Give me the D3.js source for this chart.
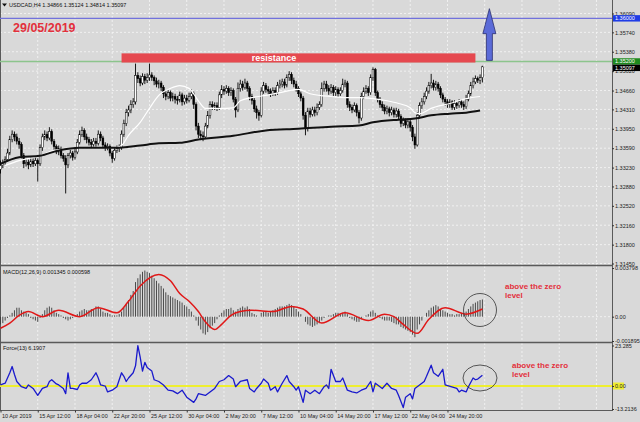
<!DOCTYPE html>
<html><head><meta charset="utf-8">
<script src="https://cdn.jsdelivr.net/npm/d3@7"></script>
<style>body{margin:0;background:#d9d9d9;} svg{display:block;font-family:"Liberation Sans",Arial,sans-serif;}</style>
</head><body><svg id="c" width="640" height="422"></svg>
<script>
// ---------- DATA ----------
const firstOpen = 1.3320;
const closes = [1.3327,1.3332,1.3338,1.3350,1.3375,1.3385,1.3380,1.3372,1.3366,1.3345,
1.3330,1.3333,1.3328,1.3335,1.3330,1.3336,1.3330,1.3360,1.3380,1.3385,
1.3378,1.3390,1.3372,1.3362,1.3352,1.3358,1.3345,1.3340,1.3328,1.3345,
1.3350,1.3342,1.3352,1.3370,1.3385,1.3392,1.3380,1.3375,1.3370,1.3366,
1.3372,1.3368,1.3385,1.3378,1.3365,1.3360,1.3362,1.3350,1.3340,1.3355,
1.3358,1.3360,1.3385,1.3405,1.3425,1.3430,1.3440,1.3445,1.3494,1.3488,
1.3480,1.3492,1.3485,1.3490,1.3495,1.3490,1.3484,1.3478,1.3480,1.3472,
1.3460,1.3455,1.3462,1.3452,1.3455,1.3450,1.3448,1.3458,1.3445,1.3452,
1.3448,1.3455,1.3460,1.3440,1.3400,1.3385,1.3382,1.3380,1.3400,1.3420,
1.3440,1.3436,1.3438,1.3434,1.3458,1.3468,1.3465,1.3470,1.3462,1.3466,
1.3450,1.3430,1.3470,1.3478,1.3472,1.3480,1.3470,1.3455,1.3448,1.3432,
1.3425,1.3420,1.3465,1.3475,1.3468,1.3465,1.3460,1.3466,1.3462,1.3475,
1.3478,1.3482,1.3476,1.3490,1.3496,1.3485,1.3478,1.3470,1.3460,1.3452,
1.3420,1.3395,1.3428,1.3422,1.3430,1.3425,1.3435,1.3440,1.3470,1.3478,
1.3470,1.3465,1.3472,1.3462,1.3468,1.3460,1.3466,1.3478,1.3480,1.3440,
1.3435,1.3430,1.3438,1.3425,1.3415,1.3455,1.3465,1.3470,1.3462,1.3490,
1.3505,1.3462,1.3450,1.3440,1.3435,1.3428,1.3432,1.3425,1.3430,1.3422,
1.3428,1.3418,1.3405,1.3410,1.3402,1.3408,1.3398,1.3380,1.3365,1.3420,
1.3438,1.3445,1.3455,1.3465,1.3475,1.3480,1.3472,1.3478,1.3470,1.3458,
1.3450,1.3445,1.3440,1.3445,1.3435,1.3442,1.3438,1.3445,1.3440,1.3436,
1.3450,1.3460,1.3475,1.3482,1.3488,1.3485,1.3490,1.3510];
const highs = [1.3336,1.3338,1.3344,1.3358,1.3382,1.3392,1.3390,1.3386,1.3378,1.3370,
1.3350,1.3340,1.3338,1.3342,1.3340,1.3342,1.3340,1.3366,1.3386,1.3392,
1.3390,1.3398,1.3394,1.3376,1.3366,1.3364,1.3362,1.3350,1.3346,1.3350,
1.3356,1.3354,1.3358,1.3376,1.3392,1.3399,1.3396,1.3386,1.3380,1.3376,
1.3378,1.3378,1.3392,1.3390,1.3382,1.3370,1.3368,1.3366,1.3354,1.3360,
1.3364,1.3366,1.3392,1.3412,1.3432,1.3438,1.3448,1.3452,1.3516,1.3500,
1.3494,1.3498,1.3497,1.3498,1.3516,1.3500,1.3494,1.3490,1.3486,1.3484,
1.3476,1.3466,1.3468,1.3466,1.3462,1.3460,1.3456,1.3464,1.3462,1.3458,
1.3458,1.3462,1.3468,1.3464,1.3444,1.3406,1.3392,1.3390,1.3406,1.3428,
1.3446,1.3446,1.3444,1.3444,1.3464,1.3476,1.3474,1.3476,1.3474,1.3472,
1.3470,1.3454,1.3481,1.3486,1.3484,1.3488,1.3484,1.3474,1.3460,1.3452,
1.3438,1.3430,1.3472,1.3482,1.3480,1.3474,1.3470,1.3472,1.3472,1.3482,
1.3486,1.3488,1.3488,1.3496,1.3502,1.3500,1.3490,1.3484,1.3474,1.3464,
1.3456,1.3426,1.3434,1.3434,1.3436,1.3436,1.3442,1.3446,1.3481,1.3484,
1.3484,1.3476,1.3478,1.3476,1.3474,1.3472,1.3472,1.3488,1.3486,1.3484,
1.3446,1.3440,1.3444,1.3442,1.3430,1.3462,1.3472,1.3476,1.3474,1.3496,
1.3509,1.3508,1.3466,1.3454,1.3446,1.3440,1.3438,1.3436,1.3436,1.3434,
1.3434,1.3432,1.3422,1.3416,1.3414,1.3414,1.3412,1.3402,1.3386,1.3426,
1.3444,1.3452,1.3462,1.3472,1.3482,1.3497,1.3486,1.3484,1.3482,1.3474,
1.3462,1.3454,1.3450,1.3450,1.3448,1.3448,1.3446,1.3450,1.3450,1.3446,
1.3458,1.3466,1.3482,1.3490,1.3494,1.3492,1.3496,1.3512];
const lows = [1.3312,1.3322,1.3328,1.3334,1.3346,1.3370,1.3372,1.3366,1.3358,1.3340,
1.3322,1.3325,1.3320,1.3324,1.3324,1.3326,1.3297,1.3326,1.3354,1.3374,
1.3372,1.3374,1.3366,1.3356,1.3348,1.3346,1.3340,1.3334,1.3275,1.3322,
1.3340,1.3336,1.3338,1.3348,1.3366,1.3380,1.3374,1.3368,1.3364,1.3360,
1.3362,1.3362,1.3364,1.3372,1.3360,1.3354,1.3355,1.3344,1.3332,1.3336,
1.3350,1.3352,1.3356,1.3380,1.3400,1.3418,1.3424,1.3434,1.3440,1.3480,
1.3474,1.3476,1.3478,1.3480,1.3484,1.3484,1.3476,1.3472,1.3470,1.3465,
1.3452,1.3448,1.3450,1.3446,1.3446,1.3442,1.3440,1.3444,1.3438,1.3440,
1.3442,1.3444,1.3450,1.3432,1.3392,1.3378,1.3374,1.3372,1.3376,1.3396,
1.3414,1.3430,1.3430,1.3428,1.3430,1.3452,1.3458,1.3460,1.3456,1.3456,
1.3444,1.3416,1.3426,1.3464,1.3466,1.3468,1.3464,1.3448,1.3440,1.3426,
1.3414,1.3410,1.3416,1.3460,1.3462,1.3458,1.3454,1.3456,1.3456,1.3458,
1.3470,1.3472,1.3470,1.3472,1.3484,1.3478,1.3472,1.3464,1.3454,1.3446,
1.3412,1.3383,1.3390,1.3416,1.3418,1.3418,1.3420,1.3430,1.3436,1.3464,
1.3464,1.3458,1.3460,1.3456,1.3456,1.3454,1.3456,1.3462,1.3472,1.3434,
1.3428,1.3424,1.3426,1.3418,1.3405,1.3410,1.3450,1.3460,1.3456,1.3458,
1.3484,1.3456,1.3444,1.3434,1.3428,1.3422,1.3422,1.3418,1.3420,1.3416,
1.3416,1.3412,1.3398,1.3400,1.3396,1.3396,1.3390,1.3372,1.3358,1.3362,
1.3414,1.3432,1.3440,1.3450,1.3460,1.3470,1.3466,1.3466,1.3464,1.3452,
1.3444,1.3438,1.3434,1.3434,1.3430,1.3430,1.3432,1.3434,1.3434,1.3430,
1.3432,1.3446,1.3456,1.3470,1.3478,1.3480,1.3478,1.3481];

const whiteMAIdx = [2,8,17,23,34,42,49,52,55,60,64,68,73,77,81,85,88,94,100,103,108,114,120,124,128,133,137,142,148,154,160,166,171,176,178,180,185,193,200,206];
const whiteMA = [1.3327,1.3336,1.3345,1.3355,1.3360,1.3360,1.3360,1.3364,1.3383,1.3407,1.3433,1.3457,1.3470,1.3475,1.3470,1.3447,1.3433,1.3433,1.3434,1.3447,1.3453,1.3457,1.3462,1.3466,1.3468,1.3460,1.3457,1.3455,1.3453,1.3453,1.3451,1.3447,1.3442,1.3434,1.3425,1.3423,1.3433,1.3442,1.3451,1.3455];
const blackMAIdx = [0,8,17,25,34,42,51,60,68,77,85,100,114,128,142,154,160,171,178,185,193,200,206];
const blackMA = [1.3330,1.3342,1.3345,1.3355,1.3360,1.3360,1.3360,1.3364,1.3368,1.3369,1.3375,1.3382,1.3392,1.3395,1.3399,1.3401,1.3407,1.3412,1.3414,1.3420,1.3423,1.3425,1.3429];

const macdHist = [-0.0006,-0.0005,-0.0003,-0.0001,0.0001,0.0003,0.0005,0.0007,0.0007,0.0005,
0.0004,0.0003,0.0002,-0.0001,-0.0002,-0.0003,-0.0004,-0.0001,0.0002,0.0005,
0.0007,0.0008,0.0007,0.0005,0.0003,0.0002,0.0001,-0.0001,-0.0002,-0.0003,
-0.0002,-0.0001,0.0000,0.0002,0.0004,0.0005,0.0006,0.0005,0.0005,0.0006,
0.0006,0.0008,0.0008,0.0006,0.0004,0.0003,0.0003,0.0002,0.0001,0.0001,
0.0001,0.0002,0.0004,0.0007,0.0010,0.0013,0.0017,0.0020,0.0027,0.0030,
0.0033,0.0035,0.0036,0.0035,0.0034,0.0032,0.0030,0.0028,0.0026,0.0024,
0.0022,0.0019,0.0017,0.0016,0.0015,0.0014,0.0013,0.0012,0.0011,0.0009,
0.0008,0.0006,0.0004,0.0001,-0.0003,-0.0007,-0.0010,-0.0013,-0.0014,-0.0012,
-0.0009,-0.0007,-0.0005,-0.0002,0.0001,0.0003,0.0005,0.0006,0.0006,0.0007,
0.0005,0.0004,0.0006,0.0007,0.0008,0.0007,0.0008,0.0006,0.0003,0.0002,
0.0001,0.0000,0.0003,0.0004,0.0004,0.0003,0.0004,0.0005,0.0006,0.0007,
0.0008,0.0008,0.0008,0.0009,0.0010,0.0009,0.0008,0.0006,0.0004,0.0002,
0.0000,-0.0004,-0.0006,-0.0007,-0.0008,-0.0007,-0.0006,-0.0005,-0.0003,-0.0001,
0.0000,0.0001,0.0001,0.0002,0.0003,0.0003,0.0002,0.0003,0.0004,0.0002,
-0.0001,-0.0002,-0.0003,-0.0004,-0.0004,-0.0002,0.0000,0.0001,0.0002,0.0004,
0.0005,0.0003,0.0001,-0.0001,-0.0002,-0.0003,-0.0003,-0.0003,-0.0004,-0.0005,
-0.0006,-0.0006,-0.0008,-0.0009,-0.0010,-0.0011,-0.0012,-0.0014,-0.0016,-0.0010,
-0.0006,-0.0003,0.0000,0.0003,0.0005,0.0007,0.0008,0.0009,0.0008,0.0006,
0.0005,0.0004,0.0003,0.0002,0.0002,0.0001,0.0002,0.0002,0.0003,0.0003,
0.0004,0.0006,0.0008,0.0010,0.0011,0.0012,0.0013,0.001345];
const signalIdx = [0,4,8,12,18,25,34,42,50,55,60,68,73,77,81,85,88,92,95,99,103,108,117,125,130,138,148,158,165,169,173,179,184,191,200,207];
const signal = [-0.0009,-0.0005,0.0001,0.0004,0.0000,0.0005,0.0000,0.0007,0.0003,0.0012,0.0024,0.0033,0.0028,0.0018,0.0012,0.0004,-0.0004,-0.0010,-0.0006,0.0001,0.0004,0.0005,0.0004,0.0008,0.0006,-0.0005,0.0003,-0.0003,0.0002,0.0000,-0.0006,-0.0013,-0.0002,0.0007,0.0002,0.000598];

const forceIdx = [0,2,4,5,6,7,9,11,12,14,16,18,20,21,22,24,25,27,28,29,30,31,33,34,35,37,39,41,42,43,45,46,48,49,50,52,53,54,55,57,58,59,60,61,62,63,65,66,68,69,70,72,74,76,78,80,83,84,85,88,90,92,94,96,98,100,101,103,106,107,109,110,112,113,115,116,118,119,121,123,124,126,127,128,130,131,133,135,137,139,140,141,142,144,146,147,149,151,153,155,157,159,160,161,163,164,166,168,170,171,173,174,176,177,178,180,182,183,185,186,187,188,190,191,196,197,198,200,201,203,204,205,207];
const force = [0.6,1.6,7.6,11.2,6.6,2.6,-0.4,-1.4,0.6,-1.4,-5.4,-1.4,-0.4,2.6,3.6,1.2,0.6,-1.4,-4.4,7.6,-1.4,-1.4,-2,0.6,1.6,1.6,3.6,7.6,4.6,0.6,0,-3.4,-2.4,-1.4,-0.4,7.6,5.6,2.6,4.6,7.6,11.6,23.2,16.6,8.6,13.6,10.6,8.6,3.6,2.6,1.6,0.6,-2.4,-2.8,-4.4,-2.4,-6.4,-9.4,-7.4,-4.4,-5.4,-3.4,-1.4,2.6,3.6,6,4,-0.4,2.6,3.6,-1.4,-3.4,-1.4,1.6,4,1.6,-2.4,-0.4,-3.4,1.6,6,2.6,-0.4,-2.4,-0.4,-9.4,-2.4,-4.4,-2.4,-4.4,-0.4,0.6,-1.4,9.6,2.6,2.6,4.6,-2.4,-3.4,-4,-2.4,-1.4,2.6,-3.4,1.6,-0.4,-1.4,1.6,-1.4,-2.4,-5.4,-12.4,-6.4,-4.4,-7.4,-1.4,0.6,2.6,5.6,12,7.6,6.6,5.6,9.6,0.6,-1.4,-3.4,-2.4,-3.4,-0.4,4.6,3.6,4,6.1907];

const priceTicks = [1.36090,1.35740,1.35380,1.35020,1.34660,1.34310,1.33950,1.33590,1.33230,1.32880,1.32520,1.32160,1.31800,1.31450];
const macdTicks = [0.003798, 0, -0.001895];
const macdTickLabels = ["0.003798","0.00","-0.001895"];
const forceTicks = [23.285, 0, -13.2136];
const forceTickLabels = ["23.285","0.00","-13.2136"];
const timeTickBars = [0,16,32,48,64,80,96,112,128,144,160,176,192];
const timeLabels = ["10 Apr 2019","15 Apr 12:00","18 Apr 04:00","22 Apr 20:00","25 Apr 12:00","30 Apr 04:00","2 May 20:00","7 May 12:00","10 May 04:00","14 May 20:00","17 May 12:00","22 May 04:00","24 May 20:00"];

const targetLevel = 1.36000, supportLevel = 1.35200, lastPrice = 1.35097;
const resistanceZone = {from: 52, to: 204, low: 1.3518, high: 1.3535};
const arrowSpec = {bar: 210, from: 1.3522, to: 1.3618};

// ---------- LAYOUT ----------
const svg = d3.select('#c');
const W = 640, R = 612;
const x = d3.scaleLinear().domain([0, 262]).range([0.5, 0.5 + 262 * 2.328]);
const y = d3.scaleLinear().domain([1.3145, 1.3609]).range([263.5, 13.5]);
const ym = d3.scaleLinear().domain([-0.001895, 0.003798]).range([341, 268]);
const yf = d3.scaleLinear().domain([-13.2136, 23.285]).range([409, 345.5]);
const panels = [[0, 265], [266, 342], [343, 410]];

svg.append('rect').attr('width', W).attr('height', 422).attr('fill', '#d9d9d9');

// grid
const grid = svg.append('g').attr('stroke', '#f6f6f6').attr('stroke-width', 0.8).attr('stroke-dasharray', '2,2');
const gridBars = d3.range(16, 262, 16);
panels.forEach(([t, b]) => {
  grid.selectAll(null).data(gridBars).join('line')
    .attr('x1', d => x(d)).attr('x2', d => x(d)).attr('y1', t).attr('y2', b);
});
grid.selectAll(null).data(priceTicks).join('line')
  .attr('x1', 0).attr('x2', R).attr('y1', d => y(d)).attr('y2', d => y(d));
grid.append('line').attr('x1', 0).attr('x2', R).attr('y1', ym(0)).attr('y2', ym(0));

// panel borders
const bord = svg.append('g').attr('stroke', '#5a5a5a');
bord.append('line').attr('x1', 0).attr('x2', R).attr('y1', 265.5).attr('y2', 265.5).attr('stroke-width', 1.6);
bord.append('line').attr('x1', 0).attr('x2', R).attr('y1', 342.5).attr('y2', 342.5).attr('stroke-width', 1.6);
bord.append('line').attr('x1', 0).attr('x2', R).attr('y1', 410.5).attr('y2', 410.5).attr('stroke-width', 1);
bord.append('line').attr('x1', R + 0.5).attr('x2', R + 0.5).attr('y1', 0).attr('y2', 411).attr('stroke-width', 1);
bord.append('line').attr('x1', 0.5).attr('x2', 0.5).attr('y1', 0).attr('y2', 411).attr('stroke-width', 1);

// horizontal levels
svg.append('line').attr('x1', 0).attr('x2', R).attr('y1', y(targetLevel)).attr('y2', y(targetLevel))
  .attr('stroke', '#7272dc').attr('stroke-width', 1.2);
svg.append('line').attr('x1', 0).attr('x2', R).attr('y1', y(supportLevel)).attr('y2', y(supportLevel))
  .attr('stroke', '#8cc48c').attr('stroke-width', 1.5);

// resistance bar
svg.append('rect').attr('x', x(resistanceZone.from)).attr('width', x(resistanceZone.to) - x(resistanceZone.from))
  .attr('y', y(resistanceZone.high)).attr('height', y(resistanceZone.low) - y(resistanceZone.high))
  .attr('fill', '#e5484f');
svg.append('text').attr('x', 274).attr('y', (y(resistanceZone.high) + y(resistanceZone.low)) / 2 + 3)
  .attr('text-anchor', 'middle').attr('font-size', 9).attr('font-weight', 'bold').attr('fill', '#fff').text('resistance');

// candles
const bars = closes.map((c, i) => ({i, o: i ? closes[i - 1] : firstOpen, h: highs[i], l: lows[i], c}));
const cg = svg.append('g');
cg.selectAll('line').data(bars).join('line')
  .attr('x1', d => x(d.i)).attr('x2', d => x(d.i)).attr('y1', d => y(d.h)).attr('y2', d => y(d.l))
  .attr('stroke', '#000').attr('stroke-width', 0.9);
cg.selectAll('rect').data(bars).join('rect')
  .attr('x', d => x(d.i) - 0.9).attr('width', 1.8)
  .attr('y', d => y(Math.max(d.o, d.c))).attr('height', d => Math.max(0.8, Math.abs(y(d.o) - y(d.c))))
  .attr('fill', d => d.c >= d.o ? '#fff' : '#000')
  .attr('stroke', '#000').attr('stroke-width', 0.5);

// moving averages
const maLine = d3.line().x(d => x(d[0])).y(d => y(d[1])).curve(d3.curveMonotoneX);
svg.append('path').attr('d', maLine(whiteMAIdx.map((b, k) => [b, whiteMA[k]])))
  .attr('fill', 'none').attr('stroke', '#fff').attr('stroke-width', 1.2);
svg.append('path').attr('d', maLine(blackMAIdx.map((b, k) => [b, blackMA[k]])))
  .attr('fill', 'none').attr('stroke', '#111').attr('stroke-width', 2);

// arrow
(function () {
  const cx = x(arrowSpec.bar), yb = y(arrowSpec.from), yt = y(arrowSpec.to), head = 25, hw = 6.5, sw = 3;
  const p = d3.path();
  p.moveTo(cx, yt); p.lineTo(cx + hw, yt + head); p.lineTo(cx + sw, yt + head); p.lineTo(cx + sw, yb);
  p.lineTo(cx - sw, yb); p.lineTo(cx - sw, yt + head); p.lineTo(cx - hw, yt + head); p.closePath();
  svg.append('path').attr('d', p.toString()).attr('fill', '#5b6bd8').attr('stroke', '#2a2f70').attr('stroke-width', 0.8);
})();

// MACD histogram + signal
svg.append('g').selectAll('line').data(macdHist).join('line')
  .attr('x1', (d, i) => x(i)).attr('x2', (d, i) => x(i)).attr('y1', ym(0)).attr('y2', d => ym(d))
  .attr('stroke', '#3a3a3a').attr('stroke-width', 0.9);
svg.append('path').attr('d', d3.line().x(d => x(d[0])).y(d => ym(d[1])).curve(d3.curveMonotoneX)(signalIdx.map((b, k) => [b, signal[k]])))
  .attr('fill', 'none').attr('stroke', '#e01818').attr('stroke-width', 1.5);

// Force
svg.append('line').attr('x1', 0).attr('x2', R).attr('y1', yf(0)).attr('y2', yf(0)).attr('stroke', '#eeee30').attr('stroke-width', 1.8);
svg.append('path').attr('d', d3.line().x(d => x(d[0])).y(d => yf(d[1]))(forceIdx.map((b, k) => [b, force[k]])))
  .attr('fill', 'none').attr('stroke', '#1a1acc').attr('stroke-width', 1.3).attr('stroke-linejoin', 'round');

// axes
function styleAxis(g) {
  g.attr('font-size', 5.5).attr('font-family', '"Liberation Sans",Arial,sans-serif');
  g.select('.domain').remove();
  g.selectAll('line').attr('stroke', '#333');
  g.selectAll('text').attr('fill', '#222');
}
svg.append('g').attr('transform', `translate(${R},0)`)
  .call(d3.axisRight(y).tickValues(priceTicks).tickFormat(d3.format('.5f')).tickSize(2).tickPadding(1)).call(styleAxis);
svg.append('g').attr('transform', `translate(${R},0)`)
  .call(d3.axisRight(ym).tickValues(macdTicks).tickFormat((d, i) => macdTickLabels[i]).tickSize(2).tickPadding(1)).call(styleAxis);
const fAx = svg.append('g').attr('transform', `translate(${R},0)`);
fAx.append('rect').attr('x', 1).attr('y', yf(0) - 3.5).attr('width', 11).attr('height', 7).attr('fill', '#eeee30');
fAx.call(d3.axisRight(yf).tickValues(forceTicks).tickFormat((d, i) => forceTickLabels[i]).tickSize(2).tickPadding(1)).call(styleAxis);
const tAx = svg.append('g').attr('transform', 'translate(0,410.5)')
  .call(d3.axisBottom(x).tickValues(timeTickBars).tickFormat((d, i) => timeLabels[i]).tickSize(2).tickPadding(2)).call(styleAxis);
tAx.selectAll('text').attr('text-anchor', 'start').attr('x', 1);

// price boxes on axis
function priceBox(v, yc, fill) {
  const g = svg.append('g');
  g.append('rect').attr('x', R + 1).attr('y', yc - 3.2).attr('width', 27).attr('height', 6.4).attr('fill', fill);
  g.append('text').attr('x', R + 3).attr('y', yc + 2).attr('font-size', 5.5).attr('fill', '#fff').text(d3.format('.5f')(v));
}
priceBox(targetLevel, y(targetLevel), '#1f3de6');
priceBox(supportLevel, y(supportLevel), '#1e8a1e');
priceBox(lastPrice, Math.max(y(lastPrice), y(supportLevel) + 6.4), '#000');

// texts
svg.append('path').attr('d', 'M2,3.5L7,3.5L4.5,6.5Z').attr('fill', '#111');
svg.append('text').attr('x', 9).attr('y', 7).attr('font-size', 5.5).attr('fill', '#111').text('USDCAD,H4  1.34866 1.35124 1.34814 1.35097');
svg.append('text').attr('x', 13).attr('y', 32).attr('font-size', 12.5).attr('font-weight', 'bold').attr('fill', '#e3303c').text('29/05/2019');
svg.append('text').attr('x', 3).attr('y', 273.5).attr('font-size', 5.5).attr('fill', '#111').text('MACD(12,26,9) 0.001345 0.000598');
svg.append('text').attr('x', 3).attr('y', 349.5).attr('font-size', 5.5).attr('fill', '#111').text('Force(13) 6.1907');

// annotations
svg.append('circle').attr('cx', 480).attr('cy', 310).attr('r', 16.5).attr('fill', 'none').attr('stroke', '#333').attr('stroke-width', 0.8);
svg.append('ellipse').attr('cx', 480).attr('cy', 378).attr('rx', 17).attr('ry', 13).attr('fill', 'none').attr('stroke', '#333').attr('stroke-width', 0.8);
const ann = [[505, 288.5, 'above the zero'], [505, 297.5, 'level'], [512, 368, 'above the zero'], [512, 377, 'level']];
svg.selectAll(null).data(ann).join('text').attr('x', d => d[0]).attr('y', d => d[1])
  .attr('font-size', 8).attr('font-weight', 'bold').attr('fill', '#e3303c').text(d => d[2]);
</script></body></html>
